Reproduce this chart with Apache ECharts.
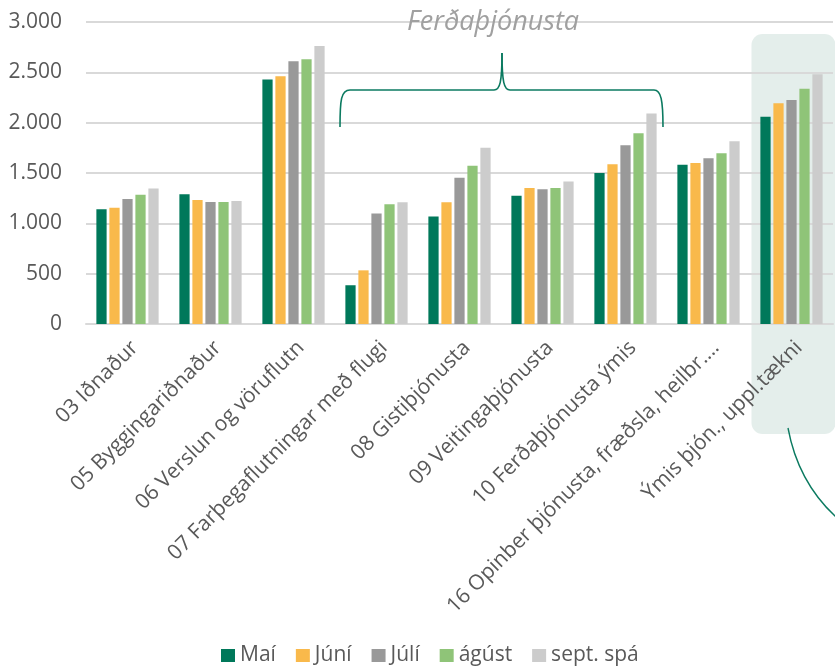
<!DOCTYPE html>
<html>
<head>
<meta charset="utf-8">
<script src="https://cdn.jsdelivr.net/npm/echarts@6/dist/echarts.min.js"></script>
<style>
  html, body { margin: 0; padding: 0; background: #fff; }
  #main { width: 835px; height: 666px; }
</style>
</head>
<body>
<div id="main"></div>
<script>
// flokkar og gildi lesin af myndinni
const categories = [
  '03 Iðnaður',
  '05 Byggingariðnaður',
  '06 Verslun og vöruflutn',
  '07 Farþegaflutningar með flugi',
  '08 Gistiþjónusta',
  '09 Veitingaþjónusta',
  '10 Ferðaþjónusta ýmis',
  '16 Opinber þjónusta, fræðsla, heilbr.…',
  'Ýmis þjón., uppl.tækni'
]
const seriesNames = ['Maí', 'Júní', 'Júlí', 'ágúst', 'sept. spá']
const mai    = [1140, 1288, 2428, 385, 1067, 1275, 1500, 1583, 2060]
const juni   = [1156, 1232, 2460, 533, 1209, 1351, 1586, 1600, 2192]
const juli   = [1242, 1212, 2610, 1097, 1454, 1338, 1775, 1646, 2225]
const agust  = [1285, 1212, 2630, 1189, 1573, 1351, 1894, 1696, 2338]
const sept   = [1345, 1222, 2762, 1209, 1752, 1415, 2090, 1815, 2481]
const colors = ['#00785a', '#f9b94b', '#999999', '#8fc478', '#cccccc']

const font = '"Open Sans", sans-serif'
let chart = echarts.init(document.getElementById('main'))

let option = {
  animation: false,
  color: colors,
  textStyle: { fontFamily: font },
  grid: { left: 86, right: 2, top: 22, bottom: 342, containLabel: false },
  legend: {
    bottom: -5,
    left: 216,
    itemWidth: 14,
    itemHeight: 13,
    itemGap: 20,
    icon: 'rect',
    textStyle: { fontSize: 21, color: '#595959', fontFamily: font },
    data: seriesNames
  },
  xAxis: {
    type: 'category',
    data: categories,
    axisTick: { show: false },
    axisLine: { lineStyle: { color: '#d9d9d9', width: 2 } },
    axisLabel: {
      rotate: 45, fontSize: 21, color: '#595959', margin: 13, interval: 0,
      verticalAlign: 'top'
    }
  },
  yAxis: {
    type: 'value',
    min: 0,
    max: 3000,
    interval: 500,
    axisLabel: {
      fontSize: 21,
      color: '#595959',
      margin: 24,
      formatter: v => String(v).replace(/\B(?=(\d{3})+(?!\d))/g, '.')
    },
    splitLine: { lineStyle: { color: '#d9d9d9', width: 2 } }
  },
  series: [mai, juni, juli, agust, sept].map((d, i) => ({
    name: seriesNames[i],
    type: 'bar',
    data: d,
    barGap: '27%',
    barCategoryGap: '25%',
    z: 3
  }))
}
chart.setOption(option)

// skýringar: bakgrunnur síðasta flokks, slaufusvigi og texti
let c9 = chart.convertToPixel({ xAxisIndex: 0 }, categories[8])
const braceStyle = { fill: null, stroke: '#0b7a60', lineWidth: 1.6 }
function bez(x1, y1, cx1, cy1, cx2, cy2, x2, y2) {
  return {
    type: 'bezierCurve', z: 10,
    shape: { x1: x1, y1: y1, cpx1: cx1, cpy1: cy1, cpx2: cx2, cpy2: cy2, x2: x2, y2: y2 },
    style: braceStyle
  }
}
function seg(x1, y1, x2, y2) {
  return { type: 'line', z: 10, shape: { x1: x1, y1: y1, x2: x2, y2: y2 }, style: braceStyle }
}
chart.setOption({
  graphic: [
    {
      type: 'rect',
      z: -1,
      shape: { x: c9 - 40, y: 34, width: 84, height: 400, r: 11 },
      style: { fill: '#e4eeeb' }
    },
    bez(340, 127, 340, 100, 341, 90, 350, 90),
    seg(350, 90, 494, 90),
    bez(494, 90, 500, 90, 502, 82, 502, 53),
    bez(502, 53, 502, 82, 504, 90, 510, 90),
    seg(510, 90, 654, 90),
    bez(654, 90, 661, 90, 663, 100, 663, 127),
    {
      type: 'bezierCurve',
      z: 10,
      shape: { x1: 788, y1: 428, cpx1: 798, cpy1: 482, x2: 836, y2: 517 },
      style: { fill: null, stroke: '#0b7a60', lineWidth: 1.4 }
    },
    {
      type: 'text',
      z: 10,
      x: 493,
      y: 22,
      style: {
        text: 'Ferðaþjónusta',
        fontFamily: font,
        fontStyle: 'italic',
        fontSize: 27,
        fill: '#a0a0a0',
        align: 'center',
        verticalAlign: 'middle'
      }
    }
  ]
})
</script>
</body>
</html>
